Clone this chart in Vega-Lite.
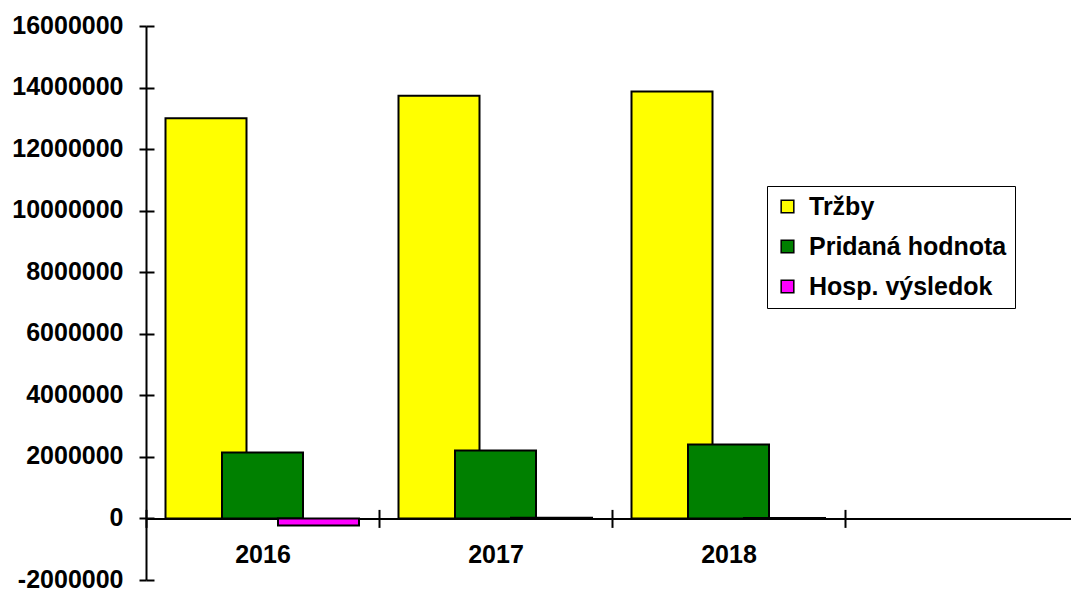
{
  "$schema": "https://vega.github.io/schema/vega-lite/v6.json",
  "autosize": "none",
  "padding": {"left": 146, "top": 26, "right": 0, "bottom": 11},
  "width": 925,
  "height": 554,
  "background": "white",
  "config": {
    "view": {"stroke": null},
    "font": "Liberation Sans",
    "axis": {"labelFont": "Liberation Sans", "labelFontWeight": "bold", "labelFontSize": 25, "labelColor": "black", "domainColor": "black", "tickColor": "black", "domainWidth": 2, "tickWidth": 2, "grid": false, "title": null}
  },
  "data": {
    "values": [
      {"year": "2016", "series": "Tržby", "value": 13000000},
      {"year": "2017", "series": "Tržby", "value": 13730000},
      {"year": "2018", "series": "Tržby", "value": 13870000},
      {"year": "2016", "series": "Pridaná hodnota", "value": 2140000},
      {"year": "2017", "series": "Pridaná hodnota", "value": 2210000},
      {"year": "2018", "series": "Pridaná hodnota", "value": 2400000},
      {"year": "2016", "series": "Hosp. výsledok", "value": -230000},
      {"year": "2017", "series": "Hosp. výsledok", "value": 20000},
      {"year": "2018", "series": "Hosp. výsledok", "value": 15000}
    ]
  },
  "encoding": {
    "color": {
      "field": "series", "type": "nominal",
      "scale": {"domain": ["Tržby", "Pridaná hodnota", "Hosp. výsledok"], "range": ["#FFFF00", "#008000", "#FF00FF"]},
      "legend": {
        "orient": "none", "legendX": 621, "legendY": 160, "title": null,
        "symbolType": "square", "symbolSize": 160, "symbolStrokeColor": "black", "symbolStrokeWidth": 1.5,
        "labelFont": "Liberation Sans", "labelFontWeight": "bold", "labelFontSize": 25, "labelColor": "black", "labelLimit": 400,
        "rowPadding": 14, "labelOffset": 9, "padding": 8,
        "strokeColor": "black", "fillColor": "white"
      }
    }
  },
  "layer": [
    {
      "transform": [{"filter": "datum.series == 'Tržby'"}],
      "mark": {"type": "bar", "width": 81, "xOffset": -56.5, "stroke": "black", "strokeWidth": 2},
      "encoding": {
        "x": {
          "field": "year", "type": "nominal",
          "scale": {"domain": ["2016", "2017", "2018", " "], "range": [0, 932], "paddingInner": 0, "paddingOuter": 0},
          "axis": {"orient": "bottom", "offset": -61.6, "tickBand": "extent", "tickSize": 9, "labelAngle": 0, "labelPadding": 15, "domainWidth": 2}
        },
        "y": {
          "field": "value", "type": "quantitative",
          "scale": {"domain": [-2000000, 16000000], "nice": false, "zero": false},
          "axis": {"orient": "left", "values": [-2000000, 0, 2000000, 4000000, 6000000, 8000000, 10000000, 12000000, 14000000, 16000000], "format": "d", "labelExpr": "replace(datum.label, '\u2212', '-')", "labelOffset": -1, "tickSize": 7, "labelPadding": 16}
        }
      }
    },
    {
      "transform": [{"filter": "datum.series == 'Pridaná hodnota'"}],
      "mark": {"type": "bar", "width": 81, "xOffset": 0, "stroke": "black", "strokeWidth": 2},
      "encoding": {
        "x": {"field": "year", "type": "nominal", "axis": null},
        "y": {"field": "value", "type": "quantitative", "axis": null}
      }
    },
    {
      "transform": [{"filter": "datum.series == 'Hosp. výsledok'"}],
      "mark": {"type": "bar", "width": 81, "xOffset": 56, "stroke": "black", "strokeWidth": 2},
      "encoding": {
        "x": {"field": "year", "type": "nominal", "axis": null},
        "y": {"field": "value", "type": "quantitative", "axis": null}
      }
    },
    {
      "mark": {"type": "point", "opacity": 0, "size": 1},
      "encoding": {
        "x": {"field": "year", "type": "nominal", "axis": {"orient": "top", "offset": -492.4, "tickBand": "extent", "tickSize": 9, "labels": false, "domain": false}},
        "y": {"field": "value", "type": "quantitative", "axis": {"orient": "right", "offset": -925, "values": [-2000000, 0, 2000000, 4000000, 6000000, 8000000, 10000000, 12000000, 14000000, 16000000], "tickSize": 8, "labels": false, "domain": false}},
        "color": {"value": "white"}
      }
    }
  ],
  "resolve": {"axis": {"x": "independent", "y": "independent"}}
}
